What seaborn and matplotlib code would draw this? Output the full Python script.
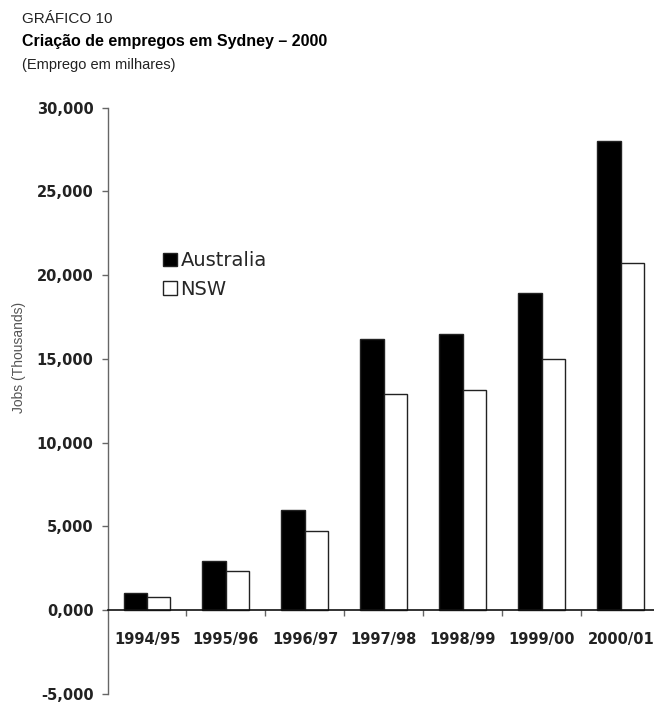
import numpy as np
import pandas as pd
import matplotlib
matplotlib.use('Agg')
import matplotlib.pyplot as plt
import seaborn as sns
from matplotlib import font_manager
from matplotlib.ticker import FuncFormatter, FixedLocator

# Data (jobs, thousands)
years = ['1994/95', '1995/96', '1996/97', '1997/98', '1998/99', '1999/00', '2000/01']
australia = [1000, 2950, 5980, 16200, 16500, 18950, 28000]
nsw = [800, 2350, 4700, 12900, 13150, 15000, 20750]
series_names = ['Australia', 'NSW']

df = pd.DataFrame({
    'year': years * 2,
    'jobs': australia + nsw,
    'region': [series_names[0]] * len(years) + [series_names[1]] * len(years),
})

sns.set_style('white')
plt.rcParams['font.family'] = ['DejaVu Sans']

names = {f.name for f in font_manager.fontManager.ttflist}
title_font = 'Liberation Sans Narrow' if 'Liberation Sans Narrow' in names else 'Liberation Sans'

fig = plt.figure(figsize=(6.54, 7.02), dpi=100)
ax = fig.add_axes([0.1644, 8 / 702, 0.8356, (694 - 107.5) / 702])

sns.barplot(data=df, x='year', y='jobs', hue='region', order=years,
            hue_order=series_names, palette={'Australia': 'black', 'NSW': 'white'},
            width=0.595, gap=0, edgecolor='#222222', linewidth=1.0,
            saturation=1, ax=ax)

ax.set_ylim(-5000, 30000)
ax.set_xlim(-0.5, 6.42)
ax.set_yticks(np.arange(-5000, 30001, 5000))
ax.yaxis.set_major_formatter(FuncFormatter(lambda v, p: f"{v / 1000:.3f}".replace('.', ',')))

for side in ['top', 'right']:
    ax.spines[side].set_visible(False)
ax.spines['left'].set_color('#666666')
ax.spines['left'].set_linewidth(1.0)
ax.spines['bottom'].set_position(('data', 0))
ax.spines['bottom'].set_color('#111111')
ax.spines['bottom'].set_linewidth(1.2)

ax.tick_params(axis='y', direction='out', length=4, width=1, color='#666666',
               labelsize=10.5, pad=6, left=True)
for t in ax.get_yticklabels():
    t.set_fontweight('bold')
    t.set_color('#222222')

ax.xaxis.set_minor_locator(FixedLocator(np.arange(0.5, 6, 1.0)))
ax.tick_params(axis='x', which='major', length=0, labelsize=10.5, pad=16)
ax.tick_params(axis='x', which='minor', direction='out', length=4, width=1,
               color='#666666', bottom=True)
for t in ax.get_xticklabels():
    t.set_fontweight('bold')
    t.set_color('#222222')
ax.set_xlabel('')

ax.set_ylabel('Jobs (Thousands)', fontsize=10, color='#555555', family='Liberation Sans')
ax.yaxis.set_label_coords(-0.149, 0.574)

leg = ax.legend(loc='upper left', bbox_to_anchor=(0.1016, 0.755), frameon=False,
                fontsize=14, handlelength=0.7, handleheight=0.7, handletextpad=0.2,
                labelspacing=0.5, borderpad=0, borderaxespad=0)

fig.text(22 / 654, 1 - 23 / 702, 'GRÁFICO 10', fontsize=11, family=title_font,
         color='#222222', va='baseline')
fig.text(22 / 654, 1 - 46 / 702, 'Criação de empregos em Sydney – 2000', fontsize=11.5,
         family=title_font, fontweight='bold', color='black', va='baseline')
fig.text(22 / 654, 1 - 69 / 702, '(Emprego em milhares)', fontsize=10.5, family=title_font,
         color='#222222', va='baseline')

fig.savefig('out.png', dpi=100)
